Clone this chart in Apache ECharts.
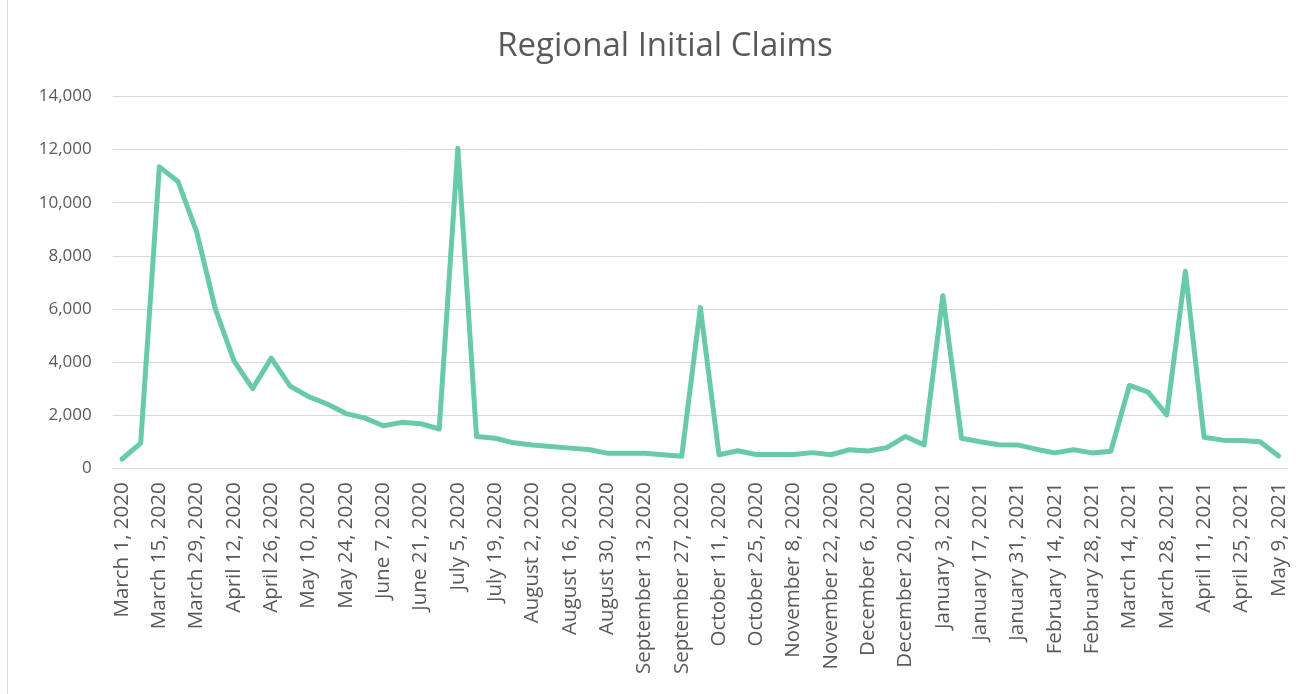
<!DOCTYPE html>
<html>
<head>
<meta charset="utf-8">
<script src="https://cdn.jsdelivr.net/npm/echarts@6/dist/echarts.min.js"></script>
<style>
html,body{margin:0;padding:0;background:#fff;}
#chart{width:1299px;height:694px;}
</style>
</head>
<body>
<div id="chart"></div>
<script>
const categories = [
  "March 1, 2020","March 8, 2020","March 15, 2020","March 22, 2020","March 29, 2020",
  "April 5, 2020","April 12, 2020","April 19, 2020","April 26, 2020",
  "May 3, 2020","May 10, 2020","May 17, 2020","May 24, 2020","May 31, 2020",
  "June 7, 2020","June 14, 2020","June 21, 2020","June 28, 2020",
  "July 5, 2020","July 12, 2020","July 19, 2020","July 26, 2020",
  "August 2, 2020","August 9, 2020","August 16, 2020","August 23, 2020","August 30, 2020",
  "September 6, 2020","September 13, 2020","September 20, 2020","September 27, 2020",
  "October 4, 2020","October 11, 2020","October 18, 2020","October 25, 2020",
  "November 1, 2020","November 8, 2020","November 15, 2020","November 22, 2020","November 29, 2020",
  "December 6, 2020","December 13, 2020","December 20, 2020","December 27, 2020",
  "January 3, 2021","January 10, 2021","January 17, 2021","January 24, 2021","January 31, 2021",
  "February 7, 2021","February 14, 2021","February 21, 2021","February 28, 2021",
  "March 7, 2021","March 14, 2021","March 21, 2021","March 28, 2021",
  "April 4, 2021","April 11, 2021","April 18, 2021","April 25, 2021",
  "May 2, 2021","May 9, 2021"
];
const claims = [
  350, 950, 11350, 10800, 8900,
  6000, 4050, 3000, 4150,
  3100, 2700, 2420, 2060, 1900,
  1600, 1730, 1680, 1480,
  12050, 1200, 1130, 960,
  880, 820, 760, 710, 570,
  570, 570, 510, 450,
  6050, 510, 660, 520,
  520, 520, 590, 510, 700,
  650, 780, 1200, 880,
  6500, 1130, 1000, 890, 880,
  720, 580, 700, 580,
  640, 3120, 2870, 2010,
  7420, 1170, 1060, 1050,
  1000, 460
];
const yTicks = { min: 0, max: 14000, interval: 2000 };
const chartTitle = "Regional Initial Claims";

const chart = echarts.init(document.getElementById('chart'), null, { renderer: 'canvas' });
chart.setOption({
  backgroundColor: '#ffffff',
  animation: false,
  title: {
    text: chartTitle,
    left: 660,
    top: 25,
    textAlign: 'center',
    textStyle: { fontFamily: 'Open Sans', fontSize: 33, fontWeight: 'normal', color: '#595959' }
  },
  graphic: [{
    type: 'line',
    shape: { x1: 7.5, y1: 0, x2: 7.5, y2: 694 },
    style: { stroke: '#d9d9d9', lineWidth: 1 },
    silent: true
  }],
  grid: { left: 112.7, right: 11, top: 96.5, bottom: 225.7, containLabel: false },
  xAxis: {
    type: 'category',
    data: categories,
    boundaryGap: true,
    axisLine: { lineStyle: { color: '#d9d9d9', width: 1 } },
    axisTick: { show: false },
    axisLabel: {
      interval: 1,
      rotate: 90,
      margin: 14,
      fontFamily: 'Open Sans',
      fontSize: 20.5,
      color: '#595959'
    },
    splitLine: { show: false }
  },
  yAxis: {
    type: 'value',
    min: yTicks.min,
    max: yTicks.max,
    interval: yTicks.interval,
    axisLine: { show: false },
    axisTick: { show: false },
    axisLabel: {
      margin: 21,
      fontFamily: 'Open Sans',
      fontSize: 17,
      color: '#595959',
      formatter: v => v.toLocaleString('en-US')
    },
    splitLine: { lineStyle: { color: '#d9d9d9', width: 1 } }
  },
  series: [{
    type: 'line',
    data: claims,
    symbol: 'none',
    smooth: false,
    lineStyle: { color: '#68c9ab', width: 5, join: 'round', cap: 'round' }
  }]
});
</script>
</body>
</html>
